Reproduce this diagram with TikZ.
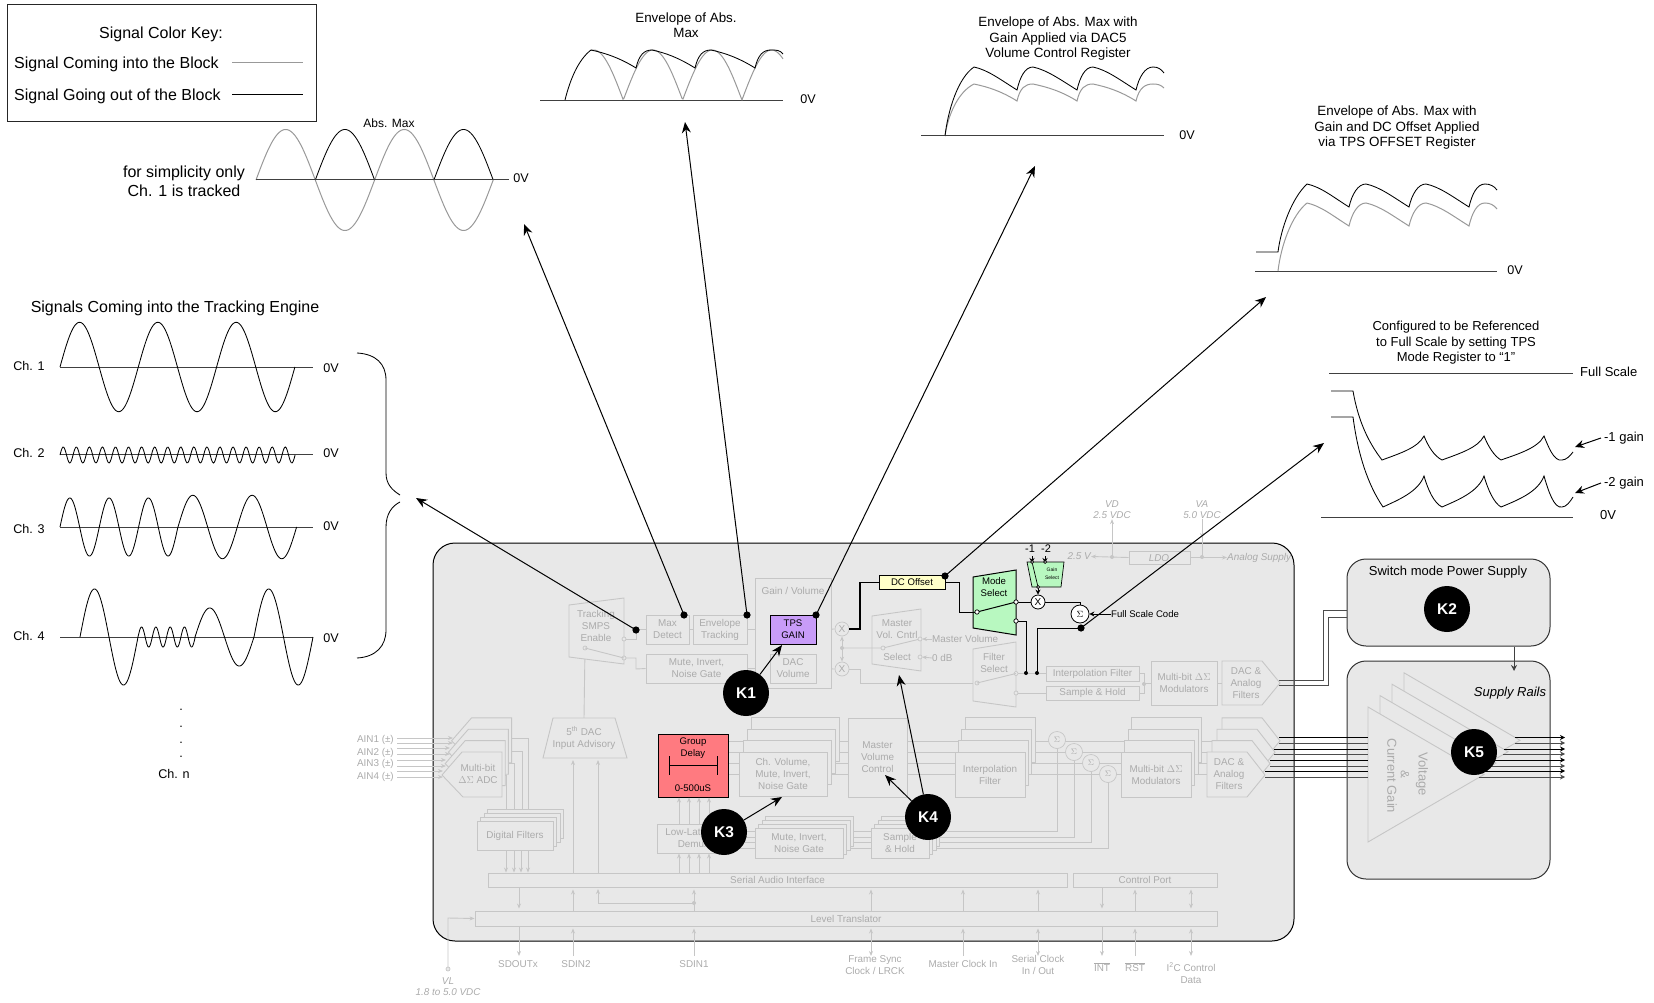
\documentclass[tikz,border=0pt]{standalone}
\usepackage{fontspec}
\setmainfont{Liberation Sans}
\usetikzlibrary{arrows.meta,calc}
\definecolor{blockbg}{HTML}{E8E8E8}
\definecolor{gline}{HTML}{C6C6C6}
\definecolor{gtext}{HTML}{ABABAB}
\definecolor{sigin}{HTML}{999999}
\definecolor{tpsfill}{HTML}{C89CF8}
\definecolor{dcfill}{HTML}{FFFFC8}
\definecolor{modefill}{HTML}{B8F8C0}
\definecolor{delayfill}{HTML}{FF7A80}
\pgfdeclarelayer{blocklayer}
\pgfdeclarelayer{wirelayer}
\pgfsetlayers{blocklayer,wirelayer,main}
\tikzset{
  gwire/.style={draw=gline,line width=0.9pt},
  garrow/.style={gwire,-{Stealth[length=5pt,width=4pt]}},
  gdbl/.style={gwire,{Stealth[length=5pt,width=4pt]}-{Stealth[length=5pt,width=4pt]}},
  gshape/.style={draw=gline,fill=blockbg,line width=0.9pt},
  gport/.style={draw=gline,fill=blockbg,line width=0.7pt},
  gblock/.style={gshape,text=gtext,align=center,inner sep=0pt,font=\fontsize{9.9}{12}\selectfont},
  glabel/.style={text=gtext,align=center,inner sep=0pt,font=\fontsize{9.9}{12}\selectfont},
  gital/.style={glabel,font=\fontsize{9.9}{11}\selectfont\itshape},
  bwire/.style={draw=black,line width=1pt},
  bport/.style={draw=black,fill=white,line width=0.7pt},
  hiblock/.style={draw=black,line width=1pt,text=black,align=center,inner sep=0pt,font=\fontsize{9.6}{12}\selectfont},
  hilabel/.style={text=black,align=center,inner sep=0pt,font=\fontsize{9.6}{12}\selectfont},
  leader/.style={draw=black,line width=1pt,-{Stealth[length=11pt,width=9pt]}},
  smallarr/.style={bwire,-{Stealth[length=5pt,width=5pt]}},
  sigin/.style={draw=sigin,line width=1pt},
  sigout/.style={draw=black,line width=0.85pt},
  axisline/.style={draw=black!75,line width=1pt},
  sigtext/.style={inner sep=0pt,align=center,font=\fontsize{16}{19}\selectfont},
  title/.style={inner sep=0pt,align=center,font=\fontsize{13.4}{15.5}\selectfont},
  chlabel/.style={inner sep=0pt,align=center,font=\fontsize{12.6}{15}\selectfont},
  knum/.style={circle,fill=black,text=white,inner sep=0pt,minimum size=46pt,font=\fontsize{15.5}{18}\selectfont\bfseries},
  rblock/.style={draw=black!80,fill=blockbg,line width=1pt,rounded corners=19pt,inner sep=0pt}
}
\newcommand{\gbox}[7][]{%
  \pgfmathsetmacro{\bw}{(#5)-(#3)}\pgfmathsetmacro{\bh}{(#6)-(#4)}%
  \node[gblock,minimum width=\bw pt,minimum height=\bh pt,#1] (#2) at ({(#3+#5)/2},{(#4+#6)/2}) {#7};}
\newcommand{\gstack}[8]{%
  \foreach \k in {3,2,1} {\gbox{#1\k}{#2+\k*#6}{#3+\k*#7}{#4+\k*#6}{#5+\k*#7}{}}%
  \gbox{#1}{#2}{#3}{#4}{#5}{#8}}
\newcommand{\sigwave}[7]{%
  \draw[#1] plot[domain=#4:#5,samples=240] ({#2+#3*(\x/360)},{#6-#7*sin(\x)});}
\newcommand{\lobes}[6]{%
  \draw[#1] (#2,#3) \foreach \vx/\px in {#5} {
    .. controls +(14,3) and (\vx-16,#4-10) .. (\vx,#4)
    .. controls (\vx+3,#4-13) and (\px-8,#3) .. (\px,#3)
  } #6;}
\begin{document}
\begin{tikzpicture}[x=1pt,y=-1pt]
  \useasboundingbox (0,0) rectangle (1654,1003);

  % Colour key
  \node[draw=black!85,line width=1pt,minimum width=309pt,minimum height=117pt,inner sep=0pt] (keybox) at (161.5,63.5) {};
  \node[sigtext] (keytitle) at (161,34) {Signal Color Key:};
  \node[sigtext,anchor=west] (keyin) at (14,64) {Signal Coming into the Block};
  \node[sigtext,anchor=west] (keyout) at (14,96) {Signal Going out of the Block};
  \coordinate (keyinend) at (303,63);
  \coordinate (keyoutend) at (303,94);
  \draw[sigin] (232,63) -- (keyinend);
  \draw[sigout] (232,94) -- (keyoutend);

  % Abs. Max
  \node[hilabel,font=\fontsize{12}{14}\selectfont] (absmax) at (389,123) {Abs. Max};
  \node[sigtext] (simple) at (184,181) {for simplicity only\\Ch. 1 is tracked};
  \node[chlabel] (absv) at (521,178) {0V};
  \sigwave{sigin}{256}{118.6}{0}{720}{180}{50.5}
  \sigwave{sigout}{256}{118.6}{180}{360}{180}{-50.5}
  \sigwave{sigout}{256}{118.6}{540}{720}{180}{-50.5}
  \draw[axisline] (256,180) -- (509,180);

  % Envelope of Abs. Max
  \node[title] (envone) at (686,25) {Envelope of Abs.\\Max};
  \node[chlabel] (envonev) at (808,99) {0V};
  \draw[axisline] (540,101) -- (783,101);
  \draw[sigin] plot[domain=591:783,samples=193] (\x,{100-50*abs(sin(3.035*(\x-564)))});
  \draw[sigout] (565,100) .. controls (570,80) and (578,60) .. (591,50);
  \lobes{sigout}{591}{50}{68}{636/652,695/711,755/771}{.. controls (776,50) and (780,50) .. (783,54)}

  % Envelope with gain
  \node[title] (envtwo) at (1058,39) {Envelope of Abs. Max with\\Gain Applied via DAC5\\Volume Control Register};
  \node[chlabel] (envtwov) at (1187,135) {0V};
  \draw[axisline] (921,136) -- (1164,136);
  \draw[sigin] (945,136) .. controls (948,115) and (958,92) .. (974,84);
  \lobes{sigin}{974}{84}{101}{1017/1033,1077/1093,1136/1153}{.. controls (1158,84) and (1161,85) .. (1164,88)}
  \draw[sigout] (945,136) .. controls (948,110) and (958,78) .. (974,67);
  \lobes{sigout}{974}{67}{90}{1017/1033,1077/1093,1136/1153}{.. controls (1158,67) and (1161,69) .. (1164,73)}

  % Envelope with gain and offset
  \node[title] (envthree) at (1397,128) {Envelope  of Abs. Max with\\Gain and DC Offset Applied\\via TPS OFFSET Register};
  \node[chlabel] (envthreev) at (1515,270) {0V};
  \draw[axisline] (1255,271) -- (1497,271);
  \draw[sigin] (1278,271) .. controls (1281,245) and (1292,215) .. (1307,203);
  \lobes{sigin}{1307}{203}{226}{1349/1366,1409/1426,1469/1485}{.. controls (1490,203) and (1494,205) .. (1497,209)}
  \draw[sigout] (1256,252) -- (1278,252) .. controls (1281,228) and (1292,198) .. (1307,184);
  \lobes{sigout}{1307}{184}{207}{1349/1366,1409/1426,1469/1485}{.. controls (1490,184) and (1494,186) .. (1497,190)}

  % Full scale referenced
  \node[title,font=\fontsize{13}{15.5}\selectfont] (fstitle) at (1456,343) {Configured to be Referenced\\to Full Scale by setting TPS\\Mode Register to “1”};
  \node[chlabel,anchor=west,font=\fontsize{13}{15}\selectfont] (fslabel) at (1580,372) {Full Scale};
  \node[chlabel,font=\fontsize{13}{15}\selectfont] (fszero) at (1608,515) {0V};
  \node[chlabel,font=\fontsize{13}{15}\selectfont] (gainone) at (1624,438) {-1 gain};
  \node[chlabel,font=\fontsize{13}{15}\selectfont] (gaintwo) at (1624,483) {-2 gain};
  \coordinate (gainonetip) at (1575,447);
  \coordinate (gaintwotip) at (1575,493);
  \draw[axisline] (1329,373) -- (1573,373);
  \draw[axisline] (1321,517) -- (1573,517);
  \draw[sigout] (1331,391) -- (1353,391) .. controls (1358,420) and (1368,442) .. (1382,460)
    .. controls (1398,454) and (1418,448) .. (1424,436) .. controls (1428,446) and (1434,456) .. (1442,460)
    .. controls (1458,454) and (1478,448) .. (1484,436) .. controls (1488,446) and (1494,456) .. (1501,460)
    .. controls (1518,454) and (1538,448) .. (1544,436) .. controls (1548,446) and (1554,462) .. (1562,460)
    .. controls (1566,460) and (1570,456) .. (1573,452);
  \draw[sigout] (1331,417) -- (1353,417) .. controls (1358,455) and (1368,485) .. (1383,507)
    .. controls (1398,500) and (1418,492) .. (1424,476) .. controls (1428,490) and (1434,503) .. (1442,507)
    .. controls (1458,500) and (1478,492) .. (1484,476) .. controls (1488,490) and (1494,503) .. (1501,507)
    .. controls (1518,500) and (1538,492) .. (1544,476) .. controls (1548,490) and (1554,509) .. (1562,507)
    .. controls (1566,507) and (1570,502) .. (1573,497);
  \draw[leader,-{Stealth[length=9pt,width=8pt]}] (gainone.west) ++(-3,0) -- (gainonetip);
  \draw[leader,-{Stealth[length=9pt,width=8pt]}] (gaintwo.west) ++(-3,0) -- (gaintwotip);

  % Input channels
  \node[sigtext] (chtitle) at (175,308) {Signals Coming into the Tracking Engine};
  \foreach \n/\y/\vy in {1/366/368,2/453/453,3/529/526,4/636/638} {
    \node[chlabel] (ch\n) at (29,\y) {Ch. \n};
    \node[chlabel] (chv\n) at (331,\vy) {0V};
  }
  \draw[axisline] (60,367) -- (313,367);
  \draw[axisline] (60,454) -- (313,454);
  \draw[axisline] (60,527) -- (313,527);
  \draw[axisline] (60,637) -- (313,637);
  \sigwave{sigout}{60}{78.3}{0}{1080}{367}{44.7}
  \sigwave{sigout}{60}{13.06}{0}{6480}{455}{8}
  \sigwave{sigout}{60}{39.3}{0}{1080}{527}{29}
  \sigwave{sigout}{178}{59.3}{0}{720}{527}{31.7}
  \sigwave{sigout}{80}{58}{0}{360}{637}{48}
  \sigwave{sigout}{138}{14.3}{0}{1440}{637}{10}
  \sigwave{sigout}{195}{59}{0}{360}{637}{29}
  \sigwave{sigout}{254}{59}{0}{360}{637}{48}
  \foreach \y/\d in {710/a,727/b,743/c,757/d} {
    \node[chlabel] (chdot\d) at (181,\y) {.};
  }
  \node[chlabel] (chn) at (174,774) {Ch. n};

  % Brace
  \coordinate (bracetip) at (416,498);
  \draw[sigout] (357,353) .. controls (376,354) and (386,364) .. (386,380) -- (386,473) .. controls (386,484) and (392,490) .. (400,495);
  \draw[sigout] (400,502) .. controls (392,506) and (386,514) .. (386,527) -- (386,630) .. controls (386,646) and (376,657) .. (357,658);

  % Main block and the two side blocks
  \begin{pgfonlayer}{blocklayer}
    \node[draw=black,fill=blockbg,line width=1pt,rounded corners=22pt,minimum width=861pt,minimum height=398pt,inner sep=0pt] (mainblock) at (863.5,742) {};
    \node[rblock,minimum width=203pt,minimum height=87pt] (smps) at (1448.5,602.5) {};
    \node[rblock,minimum width=203pt,minimum height=218pt] (rails) at (1448.5,770) {};
  \end{pgfonlayer}

  % Upper row
  \gbox{gainvol}{755}{578}{831}{688}{}
  \node[glabel,font=\fontsize{10}{12}\selectfont] (gainlabel) at (793,591) {Gain / Volume};
  \filldraw[gshape] (569,605) -- (624,598) -- (624,664) -- (569,657) -- cycle;
  \node[glabel] (track) at (596,626) {Tracking\\SMPS\\Enable};
  \gbox{maxdet}{646}{615}{689}{644}{Max\\Detect}
  \gbox{envtrack}{693}{615}{747}{644}{Envelope\\Tracking}
  \gbox{mutetop}{646}{654}{747}{683}{Mute, Invert,\\Noise Gate}
  \gbox{dacvol}{770}{654}{816}{683}{DAC\\Volume}
  \node[hiblock,fill=tpsfill,minimum width=46pt,minimum height=29pt] (tpsgain) at (793,629.5) {TPS\\GAIN};
  \node[gport,circle,minimum size=14pt,inner sep=0pt,text=gtext] (xtop) at (842,629) {X};
  \node[gport,circle,minimum size=14pt,inner sep=0pt,text=gtext] (xbot) at (842,669) {X};
  \filldraw[gshape] (872,616) -- (921,609) -- (921,671) -- (872,664) -- cycle;
  \node[glabel] (mastcntl) at (897,629) {Master\\Vol. Cntrl};
  \node[glabel] (mastsel) at (897,657) {Select};
  \filldraw[gshape] (973,649) -- (1016,642) -- (1016,707) -- (973,701) -- cycle;
  \node[glabel] (filtsel) at (994,663) {Filter\\Select};
  \gbox{interp}{1046}{666}{1139}{681}{Interpolation Filter}
  \gbox{samphold}{1046}{686}{1139}{700}{Sample \& Hold}
  \gbox{modtop}{1151}{661}{1217}{705}{Multi-bit $\Delta\Sigma$\\Modulators}
  \filldraw[gshape] (1222,661) -- (1262,661) -- (1280,683) -- (1262,705) -- (1222,705) -- cycle;
  \node[glabel] (dactop) at (1246,683) {DAC \&\\Analog\\Filters};

  % Wires of the upper row
  \begin{pgfonlayer}{wirelayer}
    \draw[gwire] (maxdet.west) -- (636,629.5) -- (636,639) -- (624,639);
    \draw[gwire] (mutetop.west) -- (636,669) -- (636,658) -- (624,658);
    \draw[gwire] (maxdet.east) -- (envtrack.west);
    \draw[gwire] (envtrack.east) -- (tpsgain.west);
    \draw[gwire] (tpsgain.east) -- (xtop.west);
    \draw[gwire] (mutetop.east) -- (dacvol.west);
    \draw[gwire] (dacvol.east) -- (xbot.west);
    \draw[gwire] (xbot.east) -- (860,669) -- (860,683) -- (977,683);
    \draw[gwire] (interp.west) -- (1016,673.5);
    \draw[gwire] (samphold.west) -- (1016,693);
    \draw[gwire] (interp.east) -- (1144,673.5) -- (1144,693) -- (samphold.east);
    \draw[gwire] (1144,683) -- (modtop.west);
    \draw[gwire] (modtop.east) -- (1222,683);
  \end{pgfonlayer}
  \draw[gdbl] (xtop.south) -- (xbot.north);
  \fill[gline] (842,648) circle (2pt);
  \draw[gwire] (842,648) -- (883,648) -- (920,639);
  \foreach \px/\py in {883/648,920/639,920/657,977/683,1016/673.5,1016/693,624/639,624/658,585/648} {
    \filldraw[gport] (\px,\py) circle (2pt);
  }
  \draw[gwire] (977,683) -- (1016,673.5);
  \draw[gwire] (585,648) -- (624,658);
  \fill[gline] (1144,684) circle (2pt);
  \node[glabel,anchor=west] (mastvol) at (932,639) {Master Volume};
  \node[glabel,anchor=west] (zerodb) at (932,658) {0 dB};
  \draw[garrow] (mastvol.west) -- (922,639);
  \draw[garrow] (zerodb.west) -- (922,657);

  % Supplies
  \gbox{ldo}{1129}{551}{1190}{564}{}
  \node[gital] (ldotext) at (1159,558) {LDO};
  \node[gital] (vd) at (1112,510) {VD\\2.5 VDC};
  \node[gital] (va) at (1202,510) {VA\\5.0 VDC};
  \node[gital,anchor=east] (vtwo) at (1091,556.5) {2.5 V};
  \node[gital,anchor=west] (analog) at (1227,557.5) {Analog Supply};
  \draw[garrow] (ldo.west) -- (vtwo.east);
  \draw[garrow] (1112,557) -- (vd.south);
  \draw[garrow] (va.south) -- (1202,538);
  \draw[garrow] (ldo.east) -- (analog.west);
  \draw[gwire] (1202,536) -- (1202,557);
  \fill[gline] (1112,557) circle (2pt) (1202,557) circle (2pt);

  % Tracking block highlights
  \filldraw[draw=black,fill=modefill,line width=1pt] (973,577) -- (1016,570) -- (1016,635) -- (973,628) -- cycle;
  \node[hilabel] (modesel) at (994,587) {Mode\\Select};
  \node[hiblock,fill=dcfill,minimum width=66pt,minimum height=14pt] (dcoff) at (912,582.5) {DC Offset};
  \filldraw[draw=black,fill=modefill,line width=0.7pt] (1027,562) -- (1064,562) -- (1061,587) -- (1032,587) -- cycle;
  \node[hilabel,font=\fontsize{5}{8}\selectfont] (gainsel) at (1052,574) {Gain\\Select};
  \node[hilabel,font=\fontsize{11}{12}\selectfont] (minusone) at (1030,549) {-1};
  \node[hilabel,font=\fontsize{11}{12}\selectfont] (minustwo) at (1046,549) {-2};
  \node[draw=black,fill=white,line width=0.8pt,circle,minimum size=14pt,inner sep=0pt] (xmul) at (1038,602) {X};
  \node[draw=black,fill=white,line width=0.8pt,circle,minimum size=18pt,inner sep=0pt,font=\fontsize{9}{10}\selectfont] (sumfs) at (1080,614) {$\Sigma$};
  \node[hilabel,anchor=west] (fscode) at (1111,614) {Full Scale Code};
  \coordinate (modein) at (977,612);
  \coordinate (modeup) at (1016,602);
  \coordinate (modedn) at (1016,621);
  \coordinate (sumdot) at (1081,628);
  \coordinate (filtup) at (1026,673);
  \coordinate (filtdn) at (1037,673);
  \draw[bwire,line width=1.3pt] (xtop.east) -- (860,629) -- (860,582.5) -- (dcoff.west);
  \draw[bwire] (dcoff.east) -- (959,582.5) -- (959,612) -- (modein);
  \draw[bwire] (modein) -- (modeup);
  \draw[bwire] (modeup) -- (xmul.west);
  \draw[bwire] (xmul.east) -- (1080,602) -- (sumfs.north);
  \draw[bwire] (modedn) -- (1026,621) -- (filtup);
  \draw[bwire] (sumdot) -- (1037,628) -- (filtdn);
  \draw[smallarr] (fscode.west) -- (sumfs.east);
  \draw[smallarr] (1032,556) -- (1032,563);
  \draw[smallarr] (1045,556) -- (1045,563);
  \draw[bwire,line width=0.7pt] (1032,562) -- (1038,587);
  \draw[smallarr] (1038,587) -- (xmul.north);
  \foreach \px/\py in {977/612,1016/602,1016/621} {
    \filldraw[bport] (\px,\py) circle (2.2pt);
  }
  \foreach \px/\py in {1032/562,1045/562,1038/587} {
    \filldraw[bport] (\px,\py) circle (1.5pt);
  }
  \fill (filtup) circle (2pt) (filtdn) circle (2pt);

  % Lower row
  \foreach \k in {3,2,1,0} {
    \filldraw[gshape] ({462+3.2*\k},{752-11.4*\k}) -- ({502+3.2*\k},{752-11.4*\k}) -- ({502+3.2*\k},{797-11.4*\k}) -- ({463+3.2*\k},{797-11.4*\k}) -- ({442+3.2*\k},{775-11.4*\k}) -- cycle;
  }
  \node[glabel] (adc) at (478,774) {Multi-bit\\$\Delta\Sigma$ ADC};
  \gstack{digifil}{477}{821}{553}{850}{3.6}{-4}{Digital Filters}
  \filldraw[gshape] (553,718) -- (615,718) -- (627,758) -- (543,758) -- cycle;
  \node[glabel] (dacfive) at (584,738) {5\textsuperscript{th} DAC\\Input Advisory};
  \node[hiblock,fill=delayfill,minimum width=70pt,minimum height=63pt] (gdelay) at (693,765.5) {};
  \node[hilabel,font=\fontsize{9.6}{12}\selectfont] (gdtext) at (693,748) {Group\\Delay};
  \node[hilabel,font=\fontsize{9.6}{12}\selectfont] (gdrange) at (693,788) {0-500uS};
  \coordinate (spanl) at (669,765.5);
  \coordinate (spanr) at (718,765.5);
  \draw[bwire,{Bar[width=19pt]}-{Bar[width=19pt]}] (spanl) -- (spanr);
  \gstack{chvol}{739}{752}{827}{796}{4}{-11.4}{Ch. Volume,\\Mute, Invert,\\Noise Gate}
  \gbox{mastctl}{848}{718}{907}{797}{Master\\Volume\\Control}
  \gstack{interpl}{955}{752}{1025}{797}{3.4}{-11.4}{Interpolation\\Filter}
  \gstack{modbot}{1121}{752}{1191}{797}{3.6}{-11.4}{Multi-bit $\Delta\Sigma$\\Modulators}
  \foreach \k in {3,2,1,0} {
    \filldraw[gshape] ({1207+5*\k},{752-11.4*\k}) -- ({1247+5*\k},{752-11.4*\k}) -- ({1265+5*\k},{775-11.4*\k}) -- ({1247+5*\k},{797-11.4*\k}) -- ({1207+5*\k},{797-11.4*\k}) -- cycle;
  }
  \node[glabel] (dacbot) at (1229,774) {DAC \&\\Analog\\Filters};
  \gbox{demux}{657}{824}{730}{853}{Low-Latency\\Demux}
  \gstack{mutebot}{755}{828}{843}{858}{3.6}{-3.7}{Mute, Invert,\\Noise Gate}
  \gstack{shold}{871}{828}{929}{858}{3.6}{-3.7}{Sample\\\& Hold}
  \foreach \n/\x/\y in {a/1057/740,b/1074/752,c/1091/763,d/1108/774} {
    \node[gport,circle,minimum size=17pt,inner sep=0pt,text=gtext,font=\fontsize{8}{10}\selectfont] (sum\n) at (\x,\y) {$\Sigma$};
  }

  % Wires of the lower row
  \begin{pgfonlayer}{wirelayer}
    \foreach \y in {741,752,763,774} {
      \draw[gwire] (gdelay.east |- 0,\y) -- (1230,\y);
    }
    \foreach \y/\s in {831/a,837/b,842/c,848/d} {
      \draw[gwire] (demux.east |- 0,\y) -- (sum\s |- 0,\y) -- (sum\s);
    }
    \foreach \x/\y in {528/738,522/751,514/763,506/775} {
      \draw[gwire] (500,\y) -- (\x,\y) -- (\x,825);
    }
    \draw[gwire] (585,648) -- (dacfive.north |- 0,718);
  \end{pgfonlayer}

  % Analog inputs
  \foreach \n/\y/\a/\b/\t in {1/740/738/743/453,2/753/748/754/450,3/764/760/766/446,4/777/771/777/443} {
    \node[glabel,anchor=east] (ain\n) at (394,\y) {AIN\n{} (±)};
    \draw[garrow] (397,\a) -- (\t,\a);
    \draw[garrow] (397,\b) -- (\t,\b);
  }

  % Serial interface and level translator
  \gbox{sai}{488}{873}{1067}{887}{Serial Audio Interface}
  \gbox{ctrl}{1073}{873}{1217}{887}{Control Port}
  \gbox{level}{475}{911}{1217}{926}{Level Translator}
  \foreach \x in {506,514,521,528} {
    \draw[garrow] (digifil.south -| \x,0) -- (sai.north -| \x,0);
  }
  \foreach \x in {573,598} {
    \draw[garrow] (sai.north -| \x,0) -- (\x,760);
  }
  \foreach \x in {679,689,699,709} {
    \draw[garrow] (sai.north -| \x,0) -- (demux.south -| \x,0);
    \draw[garrow] (demux.north -| \x,0) -- (gdelay.south -| \x,0);
  }
  \foreach \x in {573,694,871,963,1038,1135} {
    \draw[garrow] (level.north -| \x,0) -- ($(sai.south -| \x,0)+(0,2)$);
  }
  \foreach \x in {519,1102} {
    \draw[garrow] (sai.south -| \x,0) -- ($(level.north -| \x,0)+(0,-2)$);
  }
  \draw[gdbl] ($(ctrl.south -| 1191,0)+(0,2)$) -- ($(level.north -| 1191,0)+(0,-2)$);
  \draw[garrow] (694,903) -- (598,903) -- (598,889);
  \fill[gline] (694,903) circle (2pt);

  % Pins under the block
  \node[glabel] (sdout) at (518,964) {SDOUTx};
  \node[glabel] (sdintwo) at (576,964) {SDIN2};
  \node[glabel] (sdinone) at (694,964) {SDIN1};
  \node[glabel] (frame) at (875,965) {Frame Sync\\Clock / LRCK};
  \node[glabel] (mclk) at (963,964) {Master Clock  In};
  \node[glabel] (sclk) at (1038,965) {Serial Clock\\In / Out};
  \node[glabel] (intpin) at (1102,967) {$\overline{\mbox{INT}}$};
  \node[glabel] (rstpin) at (1135,967) {$\overline{\mbox{RST}}$};
  \node[glabel] (icpin) at (1191,973) {I\textsuperscript{2}C Control\\Data};
  \node[gital] (vl) at (448,987) {VL\\1.8  to 5.0 VDC};
  \foreach \x in {573,694,963,1135} {
    \draw[garrow] (\x,956) -- ($(level.south -| \x,0)+(0,2)$);
  }
  \foreach \x in {871,1038,1191} {
    \draw[gdbl] (\x,956) -- ($(level.south -| \x,0)+(0,2)$);
  }
  \foreach \x in {519,1102} {
    \draw[garrow] ($(level.south -| \x,0)+(0,1)$) -- (\x,956);
  }
  \coordinate (vlpin) at (448,969);
  \draw[garrow] (vlpin) -- (448,918) -- (level.west);
  \filldraw[gport] (vlpin) circle (2pt);

  % Output stage
  \foreach \k in {3,2,1,0} {
    \filldraw[gshape] ({1368+12*\k},{707-11.4*\k}) -- ({1484+12*\k},{774.5-11.4*\k}) -- ({1368+12*\k},{842-11.4*\k}) -- cycle;
  }
  \node[glabel,rotate=-90,font=\fontsize{13}{15}\selectfont] (volt) at (1422,774) {Voltage};
  \node[glabel,rotate=-90,font=\fontsize{12}{15}\selectfont] (amp) at (1405,774) {\&};
  \node[glabel,rotate=-90,font=\fontsize{13}{15}\selectfont] (curr) at (1392,776) {Current Gain};
  \node[chlabel,font=\fontsize{13}{15}\selectfont\itshape] (srails) at (1510,693) {Supply Rails};
  \node[chlabel,font=\fontsize{13}{15}\selectfont] (smpstext) at (1448,572) {Switch mode Power Supply};
  \draw[bwire,draw=black!75,-{Stealth[length=6pt,width=6pt]}] (smps.south -| 1514,0) -- (1514,671);
  \draw[bwire,draw=black!70] (1279,680) -- (1323,680) -- (1323,610) -- (smps.west |- 0,610);
  \draw[bwire,draw=black!70] (1279,685) -- (1328,685) -- (1328,617) -- (smps.west |- 0,617);
  \foreach \y/\s/\e/\c in {737.5/1279/1515/black,743/1279/1515/black!70,749/1274/1504/black,754/1274/1503/black!70,760/1270/1491/black,766/1270/1491/black!70,771/1265/1479/black,777/1265/1479/black!70} {
    \draw[draw=\c,line width=1pt] (\s,\y) -- (1368,\y);
    \draw[draw=\c,line width=1pt,-{Stealth[length=5pt,width=5pt]}] (\e,\y) -- (1565,\y);
  }

  % Numbered callouts
  \node[knum] (kone) at (746,693) {K1};
  \node[knum] (ktwo) at (1447,609) {K2};
  \node[knum] (kthree) at (724,832) {K3};
  \node[knum] (kfour) at (928,817) {K4};
  \node[knum] (kfive) at (1474,752) {K5};
  \coordinate (tipone) at (782,645);
  \coordinate (tipthree) at (782,797);
  \coordinate (tipfoura) at (885,775);
  \coordinate (tipfourb) at (899,675);
  \draw[leader] (kone) -- (tipone);
  \draw[leader] (kthree) -- (tipthree);
  \draw[leader] (kfour) -- (tipfoura);
  \draw[leader] (kfour) -- (tipfourb);

  % Tap points and leaders to the traces
  \coordinate (taptrack) at (636,630);
  \coordinate (tapmax) at (684,615);
  \coordinate (tapenv) at (747,615);
  \coordinate (tapgain) at (816,615);
  \coordinate (tapdc) at (945,576);
  \coordinate (tipabs) at (524,224);
  \coordinate (tipenv) at (685,122);
  \coordinate (tipgain) at (1035,166);
  \coordinate (tipdc) at (1266,297);
  \coordinate (tipfs) at (1324,443);
  \draw[leader] (taptrack) -- (bracetip);
  \draw[leader] (tapmax) -- (tipabs);
  \draw[leader] (tapenv) -- (tipenv);
  \draw[leader] (tapgain) -- (tipgain);
  \draw[leader] (tapdc) -- (tipdc);
  \draw[leader] (sumdot) -- (tipfs);
  \foreach \c in {taptrack,tapmax,tapenv,tapgain,tapdc,sumdot} {
    \fill (\c) circle (3.6pt);
  }
\end{tikzpicture}
\end{document}
